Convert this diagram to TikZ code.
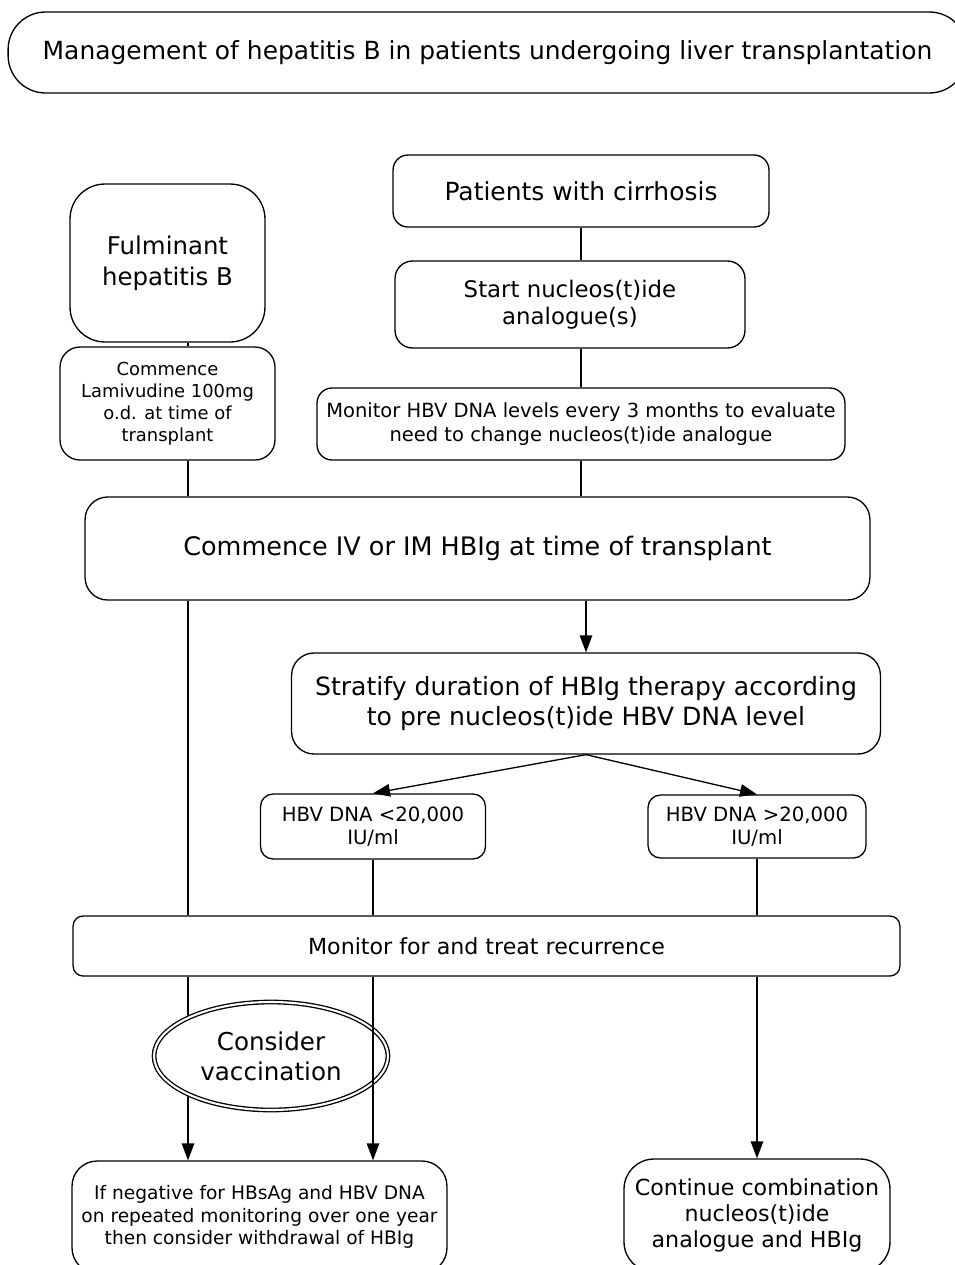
\documentclass[tikz,border=0pt]{standalone}
\usepackage{fontspec}
\setmainfont{DejaVu Sans}
\usetikzlibrary{arrows.meta,shapes.geometric}

\begin{document}
\begin{tikzpicture}[x=0.02cm, y=-0.02cm, >={Triangle[length=0.34cm,width=0.25cm]}, line width=0.75pt]
\tikzstyle{box}=[draw=black, fill=white, align=center, inner sep=0pt]
\useasboundingbox (0,0) rectangle (955,1265);

\node[box, rounded corners=0.75cm, minimum width=19.18cm, minimum height=1.62cm, font=\fontsize{14.2}{17}\selectfont] (title) at (487.5,52.5) {Management of hepatitis B in patients undergoing liver transplantation};

\node[box, rounded corners=0.3cm, minimum width=7.52cm, minimum height=1.44cm, font=\fontsize{14.2}{17}\selectfont] (pat) at (581,191) {Patients with cirrhosis};
\node[box, rounded corners=0.7cm, minimum width=3.9cm, minimum height=3.16cm, font=\fontsize{13.9}{17.4}\selectfont] (fulm) at (167.5,263) {Fulminant\\hepatitis B};
\node[box, rounded corners=0.35cm, minimum width=7cm, minimum height=1.74cm, font=\fontsize{13}{15.3}\selectfont] (start) at (570,304.5) {Start nucleos(t)ide\\analogue(s)};
\node[box, rounded corners=0.4cm, minimum width=4.3cm, minimum height=2.26cm, font=\fontsize{10.2}{12.6}\selectfont] (lam) at (167.5,403.5) {Commence\\Lamivudine 100mg\\o.d. at time of\\transplant};
\node[box, rounded corners=0.3cm, minimum width=10.56cm, minimum height=1.44cm, font=\fontsize{11.1}{13.6}\selectfont] (mon) at (581,424) {Monitor HBV DNA levels every 3 months to evaluate\\need to change nucleos(t)ide analogue};
\node[box, rounded corners=0.45cm, minimum width=15.7cm, minimum height=2.06cm, font=\fontsize{14.5}{17}\selectfont] (civ) at (477.5,548.5) {Commence IV or IM HBIg at time of transplant};
\node[box, rounded corners=0.45cm, minimum width=11.78cm, minimum height=2.02cm, font=\fontsize{14.3}{16.8}\selectfont] (strat) at (586,703.5) {Stratify duration of HBIg therapy according\\to pre nucleos(t)ide HBV DNA level};
\node[box, rounded corners=0.25cm, minimum width=4.5cm, minimum height=1.3cm, font=\fontsize{11.2}{13}\selectfont] (lo) at (373,826.5) {HBV DNA <20,000\\IU/ml};
\node[box, rounded corners=0.25cm, minimum width=4.36cm, minimum height=1.26cm, font=\fontsize{11.2}{13}\selectfont] (hi) at (757,826.5) {HBV DNA >20,000\\IU/ml};
\node[box, rounded corners=0.2cm, minimum width=16.54cm, minimum height=1.2cm, font=\fontsize{12.6}{15}\selectfont] (monrec) at (486.5,946) {Monitor for and treat recurrence};
\node[box, rounded corners=0.5cm, minimum width=7.5cm, minimum height=2.24cm, font=\fontsize{10.6}{13}\selectfont] (wdraw) at (259.5,1217) {If negative for HBsAg and HBV DNA\\on repeated monitoring over one year\\then consider withdrawal of HBIg};
\node[box, rounded corners=0.6cm, minimum width=5.32cm, minimum height=2.26cm, font=\fontsize{12.6}{15}\selectfont] (combo) at (757,1215.5) {Continue combination\\nucleos(t)ide\\analogue and HBIg};

% left column runs at x = 188
\coordinate (lft) at (188,0);

\draw (pat.south) -- (pat.south |- start.north);
\draw (start.south -| pat.south) -- (mon.north -| pat.south);
\draw (mon.south) -- (mon.south |- civ.north);
\draw (fulm.south -| lft) -- (lam.north -| lft);
\draw (lam.south -| lft) -- (civ.north -| lft);
\draw[->] (civ.south -| strat.north) -- (strat.north);
\draw[->] (strat.south) -- (lo.north);
\draw[->] (strat.south) -- (hi.north);
\draw (lo.south) -- (lo.south |- monrec.north);
\draw (hi.south) -- (hi.south |- monrec.north);
\draw (civ.south -| lft) -- (monrec.north -| lft);
\draw[->] (monrec.south -| lft) -- (wdraw.north -| lft);
\draw[->] (monrec.south -| combo.north) -- (combo.north);

% ellipse covers the left line, the other one runs over it
\node[ellipse, draw=black, double, double distance=1.2pt, fill=white, minimum width=4.68cm, minimum height=2.16cm, inner sep=0pt, align=center, font=\fontsize{14}{17}\selectfont] (vacc) at (271,1056) {Consider\\vaccination};
\draw[->] (monrec.south -| lo.south) -- (wdraw.north -| lo.south);
\end{tikzpicture}
\end{document}
